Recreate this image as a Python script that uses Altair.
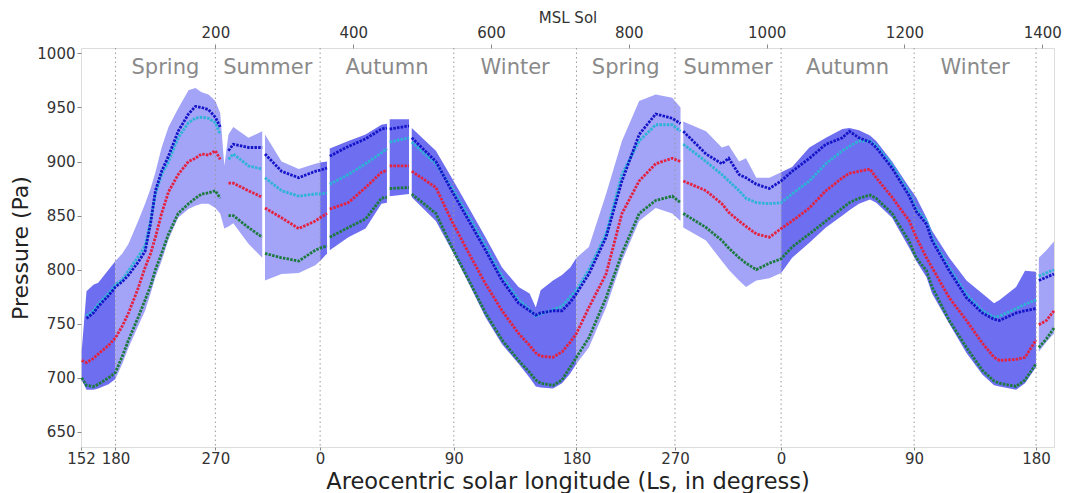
import altair as alt
import pandas as pd

# ---------------- data ----------------
sol = [6, 13, 23, 30, 45, 55, 65, 74, 88, 98, 106, 113, 122, 132, 146, 161, 171, 180, 190, 200,
       207, 213, 219, 226, 248, 268, 270, 272, 296, 321, 345, 352, 362, 364, 366, 393, 418, 441, 449, 451,
       453, 481, 483, 485, 520, 543, 568, 592, 616, 640, 656, 665, 672, 690, 703, 715, 724, 742, 767, 790,
       815, 839, 863, 875, 877, 879, 912, 935, 945, 960, 970, 985, 1004, 1021, 1037, 1062, 1086, 1110, 1120, 1134,
       1150, 1159, 1182, 1207, 1217, 1232, 1240, 1265, 1290, 1313, 1330, 1338, 1362, 1375, 1391, 1393, 1395, 1406, 1417]

p_max = [725, 780, 786, 788, 800, 808, 815, 824, 845, 861, 875, 890, 913, 932, 949, 966, 968, 964, 962, 956,
         945, 896, 925, 932, 922, 928, None, 925, 900, 893, 898, 899, 900, None, 912, 919, 925, 934, 935, None,
         939, 939, None, 931, 910, 885, 857, 830, 802, 784, 778, 765, 781, 790, 795, 802, 811, 821, 870, 919,
         956, 962, 959, 950, None, 937, 928, 913, 915, 900, 903, 885, 885, 890, 895, 913, 922, 930, 931, 929,
         924, 919, 900, 876, 867, 848, 836, 811, 790, 778, 769, 772, 784, 799, 798, None, 811, 818, 826]

p_blue = [None, 755, 760, 766, 776, 784, 789, 795, 807, 817, 843, 873, 891, 905, 928, 944, 951, 950, 948, 941,
          932, None, 910, 916, 913, 913, None, 907, 891, 885, 891, 892, 894, None, 905, 914, 921, 930, 931, None,
          930, 933, None, 922, 900, 873, 845, 818, 790, 769, 762, 758, 760, 762, 762, 770, 778, 796, 830, 882,
          925, 944, 940, 935, None, 928, 907, 898, 903, 888, 885, 879, 875, 882, 891, 903, 916, 922, 928, 922,
          918, 913, 894, 868, 854, 842, 827, 799, 774, 760, 754, 753, 760, 762, 764, None, 790, 793, 796]

p_cyan = [None, 757, 762, 768, 778, 786, 791, 799, 812, 822, 845, 870, 888, 900, 922, 936, 940, 941, 940, 936,
          925, None, 902, 907, 896, 893, None, 885, 873, 868, 870, 870, 871, None, 879, 888, 898, 908, 912, None,
          918, 922, None, 918, 898, 876, 849, 822, 794, 772, 763, 757, 759, 763, 766, 775, 781, 800, 833, 888,
          919, 934, 934, 928, None, 916, 900, 888, 882, 873, 866, 862, 861, 862, 870, 882, 898, 910, 914, 919,
          919, 915, 897, 871, 857, 845, 830, 802, 777, 762, 756, 757, 764, 768, 772, None, 794, 797, 800]

p_red = [716, 714, 718, 722, 730, 737, 748, 760, 783, 802, 815, 830, 852, 872, 888, 900, 903, 907, 906, 910,
         902, None, 880, 880, 873, 867, None, 857, 848, 838, 845, 848, 852, None, 856, 862, 876, 890, 892, None,
         896, 896, None, 891, 876, 845, 815, 787, 762, 741, 730, 723, 720, 719, 724, 733, 741, 765, 796, 852,
         882, 898, 903, 900, None, 882, 873, 861, 853, 845, 840, 833, 830, 838, 845, 857, 873, 885, 889, 891,
         893, 885, 867, 845, 830, 811, 802, 774, 753, 732, 719, 716, 717, 719, 735, None, 749, 753, 762]

p_green = [700, 693, 692, 694, 700, 705, 720, 735, 756, 772, 785, 800, 815, 833, 852, 861, 866, 870, 871, 873,
           866, None, 850, 850, 839, 830, None, 815, 811, 808, 818, 820, 822, None, 830, 839, 847, 866, 867, None,
           875, 876, None, 870, 852, 821, 790, 760, 735, 716, 705, 698, 695, 693, 698, 710, 719, 737, 774, 815,
           852, 864, 868, 862, None, 852, 839, 827, 820, 811, 806, 800, 806, 810, 821, 833, 845, 857, 862, 866,
           869, 866, 852, 826, 811, 799, 784, 753, 728, 707, 697, 695, 692, 698, 713, None, 728, 736, 746]

p_min = [698, 689, 689, 690, 694, 699, 713, 728, 748, 762, 778, 793, 808, 828, 848, 856, 859, 861, 861, 857,
         852, 838, 840, 843, 824, 811, None, 790, 796, 797, 804, 808, 815, None, 818, 830, 838, 861, 862, None,
         868, 870, None, 867, 845, 818, 787, 756, 731, 713, 700, 692, 691, 690, 695, 704, 713, 728, 765, 808,
         845, 857, 852, 845, None, 839, 827, 808, 800, 790, 784, 790, 792, 797, 811, 825, 839, 850, 855, 861,
         865, 862, 848, 820, 808, 793, 778, 750, 723, 703, 693, 692, 689, 695, 710, None, 724, 733, 741]

# bottom axis: areocentric solar longitude at given sols
ls_tick_sol = [5, 55, 200, 352, 546, 724, 867, 1021, 1214, 1391]
ls_tick_label = ["152", "180", "270", "0", "90", "180", "270", "0", "90", "180"]
season_names = ["Spring", "Summer", "Autumn", "Winter", "Spring", "Summer", "Autumn", "Winter"]
sol_ticks = [200, 400, 600, 800, 1000, 1200, 1400]
y_ticks = [650, 700, 750, 800, 850, 900, 950, 1000]

X_DOMAIN = [5, 1417]
Y_DOMAIN = [636, 1005]

C_LIGHT = "#a3a3f8"
C_DARK = "#6e6ef0"
series_colors = {"blue": "#1414c8", "cyan": "#2cb4d4", "red": "#e4223e", "green": "#1c7a3c"}
FONT = "DejaVu Sans"

# ---------------- build tables ----------------
def phase_of(s):
    idx = 0
    for i, t in enumerate(ls_tick_sol):
        if s >= t:
            idx = i
    return "dark" if ls_tick_label[idx] in ("152", "0", "90") else "light"

area_rows = []
seg = 0
prev_phase = None
for i, s in enumerate(sol):
    if p_max[i] is None:
        seg += 1
        prev_phase = None
        continue
    ph = phase_of(s)
    if prev_phase is not None and ph != prev_phase:
        area_rows.append(dict(sol=s, lo=p_min[i], hi=p_max[i], phase=prev_phase, seg=seg))
        seg += 1
    area_rows.append(dict(sol=s, lo=p_min[i], hi=p_max[i], phase=ph, seg=seg))
    prev_phase = ph
area_df = pd.DataFrame(area_rows)


def series_df(vals):
    rows = []
    g = 0
    for s, v in zip(sol, vals):
        if v is None:
            g += 1
            continue
        rows.append(dict(sol=s, p=v, seg=g))
    return pd.DataFrame(rows)


x_scale = alt.Scale(domain=X_DOMAIN, nice=False, zero=False)
y_scale = alt.Scale(domain=Y_DOMAIN, nice=False, zero=False)
y_axis = alt.Axis(values=y_ticks, title="Pressure (Pa)", grid=False, domain=False, format="d",
                  tickColor="#888", tickSize=4, labelFontSize=15, labelColor="#333", labelFont=FONT,
                  labelPadding=2, titleFont=FONT, titleFontSize=22, titleFontWeight="normal",
                  titleColor="#222", titlePadding=4)

label_expr = "[" + ",".join("'%s'" % l for l in ls_tick_label) + "][indexof([" + \
    ",".join(str(v) for v in ls_tick_sol) + "], datum.value)]"

bottom_axis = alt.Axis(values=ls_tick_sol, labelExpr=label_expr, orient="bottom", grid=False,
                       domain=False, tickColor="#888", tickSize=3, labelFontSize=15, labelColor="#333",
                       labelFont=FONT, titleFont=FONT, labelFlush=False,
                       title="Areocentric solar longitude (Ls, in degress)", titleFontSize=22.5,
                       titleFontWeight="normal", titleColor="#222", titlePadding=4, labelPadding=1,
                       labelOverlap=False)

top_axis = alt.Axis(values=sol_ticks, orient="top", grid=False, domain=False, tickColor="#888",
                    format="d", labelFlush=False, labelFont=FONT, titleFont=FONT,
                    tickSize=4, labelFontSize=15, labelColor="#333", title="MSL Sol",
                    titleFontSize=15, titleFontWeight="normal", titleColor="#333", titlePadding=0,
                    labelPadding=4)

area = alt.Chart(area_df).mark_area(opacity=1).encode(
    x=alt.X("sol:Q", scale=x_scale, axis=bottom_axis),
    y=alt.Y("lo:Q", scale=y_scale, axis=y_axis),
    y2="hi:Q",
    color=alt.Color("phase:N", scale=alt.Scale(domain=["light", "dark"], range=[C_LIGHT, C_DARK]), legend=None),
    detail="seg:N",
)

rules_df = pd.DataFrame({"sol": ls_tick_sol[1:]})
rules = alt.Chart(rules_df).mark_rule(color="#9a9a9a", strokeDash=[1.5, 3], strokeWidth=1).encode(
    x=alt.X("sol:Q", scale=x_scale, axis=None),
)

lines = []
for name, vals in [("cyan", p_cyan), ("blue", p_blue), ("red", p_red), ("green", p_green)]:
    lines.append(
        alt.Chart(series_df(vals)).mark_line(color=series_colors[name], strokeWidth=2.8,
                                             strokeDash=[2.5, 1.2]).encode(
            x=alt.X("sol:Q", scale=x_scale, axis=None),
            y=alt.Y("p:Q", scale=y_scale, axis=y_axis),
            detail="seg:N",
        )
    )

mid = [(ls_tick_sol[i] + ls_tick_sol[i + 1]) / 2 for i in range(1, len(ls_tick_sol) - 1)]
season_df = pd.DataFrame({"sol": mid, "name": season_names})
seasons = alt.Chart(season_df).mark_text(fontSize=21, color="#8a8a8a", font=FONT, baseline="middle").encode(
    x=alt.X("sol:Q", scale=x_scale, axis=top_axis),
    y=alt.value(20),
    text="name:N",
)

chart = alt.layer(area, rules, *lines, seasons).resolve_axis(x="independent").properties(
    width=1055, height=485,
    autosize=alt.AutoSizeParams(type="fit", contains="padding"),
    padding={"left": 1, "top": 2, "right": 2, "bottom": 0}
).configure_view(stroke="#8c8c8c", strokeWidth=1.3).configure_axis(
    labelFont=FONT, titleFont=FONT
).configure(background="white")

chart.save("out.html", embed_options={"renderer": "svg", "actions": False})
